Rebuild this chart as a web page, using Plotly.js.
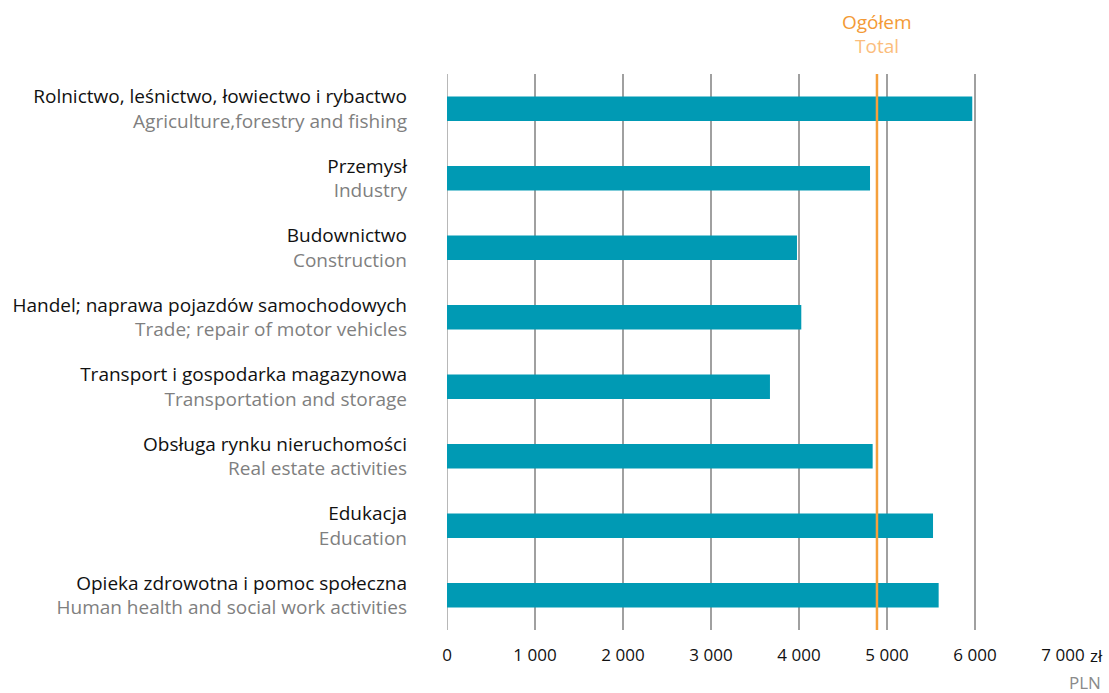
<!DOCTYPE html>
<html>
<head>
<meta charset="utf-8">
<script src="https://cdn.plot.ly/plotly-3.0.1.min.js"></script>
<style>html,body{margin:0;padding:0;background:#fff;}#chart{width:1109px;height:693px;}</style>
</head>
<body>
<div id="chart"></div>
<script>
const categoriesPL = [
  "Rolnictwo, leśnictwo, łowiectwo i rybactwo",
  "Przemysł",
  "Budownictwo",
  "Handel; naprawa pojazdów samochodowych",
  "Transport i gospodarka magazynowa",
  "Obsługa rynku nieruchomości",
  "Edukacja",
  "Opieka zdrowotna i pomoc społeczna"
];
const categoriesEN = [
  "Agriculture,forestry and fishing",
  "Industry",
  "Construction",
  "Trade; repair of motor vehicles",
  "Transportation and storage",
  "Real estate activities",
  "Education",
  "Human health and social work activities"
];
const wages = [5969, 4807, 3977, 4026, 3670, 4837, 5523, 5587];
const totalWage = 4886;
const tickValues = [0, 1000, 2000, 3000, 4000, 5000, 6000, 7000];
const tickLabels = ["0", "1 000", "2 000", "3 000", "4 000", "5 000", "6 000", "7 000"];
const currencyLabel = "zł";
const unitLabel = "PLN";
const totalLabelPL = "Ogółem";
const totalLabelEN = "Total";

const yLabels = categoriesPL.map((pl, i) =>
  pl + '<br><span style="color:#7f7f7f">' + categoriesEN[i] + '</span>');
const ids = categoriesPL.map((_, i) => 'c' + i);

const trace = {
  type: 'bar',
  orientation: 'h',
  x: wages,
  y: ids,
  marker: {color: '#009ab4'},
  hoverinfo: 'x'
};

const layout = {
  width: 1109,
  height: 693,
  margin: {l: 447, r: 46, t: 74, b: 63},
  paper_bgcolor: '#fff',
  plot_bgcolor: '#fff',
  showlegend: false,
  bargap: 0.65,
  font: {family: '"Open Sans", sans-serif', size: 16, color: '#111'},
  xaxis: {
    range: [0, 7000],
    tickvals: tickValues,
    ticktext: tickLabels,
    showgrid: true,
    gridcolor: '#a0a0a0',
    gridwidth: 1.5,
    zeroline: false,
    showline: false,
    ticks: '',
    ticklabelstandoff: 13,
    tickfont: {size: 17, color: '#111'},
    fixedrange: true
  },
  yaxis: {
    autorange: 'reversed',
    tickvals: ids,
    ticktext: yLabels,
    showgrid: false,
    zeroline: false,
    showline: false,
    ticks: '',
    ticklabelstandoff: 39,
    tickfont: {size: 19, color: '#111'},
    fixedrange: true
  },
  shapes: [
    {type: 'line', xref: 'x', yref: 'paper', x0: 0, x1: 0, y0: 0, y1: 1,
     line: {color: '#a0a0a0', width: 1.5}, layer: 'below'},
    {type: 'line', xref: 'x', yref: 'paper', x0: totalWage, x1: totalWage, y0: 0, y1: 1,
     line: {color: '#f5a03c', width: 2.5}, layer: 'above'}
  ],
  annotations: [
    {xref: 'x', yref: 'paper', x: totalWage, y: 1, yshift: 52, text: totalLabelPL,
     showarrow: false, xanchor: 'center', yanchor: 'middle',
     font: {size: 19, color: '#f39a36'}},
    {xref: 'x', yref: 'paper', x: totalWage, y: 1, yshift: 28, text: totalLabelEN,
     showarrow: false, xanchor: 'center', yanchor: 'middle',
     font: {size: 19, color: '#fbbd7c'}},
    {xref: 'x', yref: 'paper', x: 7000, y: 0, xshift: 25, yshift: -25, text: currencyLabel,
     showarrow: false, xanchor: 'left', yanchor: 'middle',
     font: {size: 17, color: '#111'}},
    {xref: 'paper', yref: 'paper', x: 1, y: 0, xshift: 40, yshift: -52, text: unitLabel,
     showarrow: false, xanchor: 'right', yanchor: 'middle',
     font: {size: 17, color: '#8a8a8a'}}
  ]
};

Plotly.newPlot('chart', [trace], layout, {displayModeBar: false, staticPlot: true});
</script>
</body>
</html>
